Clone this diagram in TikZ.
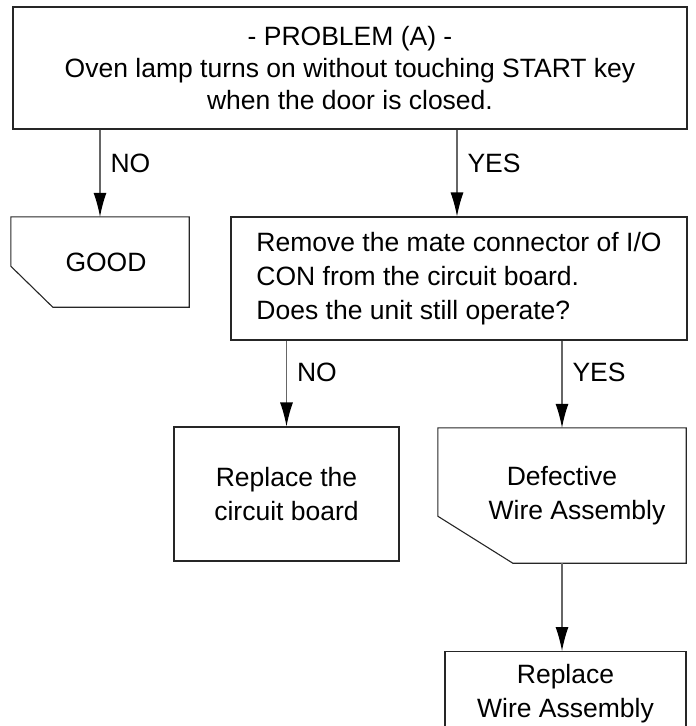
\documentclass[tikz,border=0pt]{standalone}
\usepackage{fontspec}
\setmainfont{Liberation Sans}
\usetikzlibrary{arrows.meta}
\begin{document}
\begin{tikzpicture}[x=1pt,y=-1pt,
  every node/.style={font=\fontsize{26.5}{34}\selectfont},
  boxnode/.style={draw=black!85, line width=1.1pt, align=center, inner sep=0pt},
  plain/.style={draw=none, align=center, inner sep=0pt},
  outline/.style={draw=black!85, line width=1.1pt, line join=miter},
  flow/.style={draw=black!60, line width=1.1pt, -{Latex[length=24pt,width=13pt,color=black]}},
  lab/.style={anchor=west, inner sep=0pt, xshift=10pt}]
\useasboundingbox (0,0) rectangle (696,726);
\clip (0,0) rectangle (696,726);

\node[boxnode, minimum width=674pt, minimum height=122pt, font=\fontsize{26.5}{32}\selectfont] (prob) at (350,68)
  {- PROBLEM (A) -\\Oven lamp turns on without touching START key\\when the door is closed.};

\node[plain, minimum width=178pt, minimum height=90pt] (good) at (100,262) {\hspace*{12pt}GOOD};
\draw[outline] (good.north west) -- (good.north east) -- (good.south east)
  -- ([xshift=42pt]good.south west) -- ([yshift=41pt]good.south west) -- cycle;

\node[boxnode, align=left, minimum width=456pt, minimum height=123pt] (mid) at (459,278.5)
  {Remove the mate connector of I/O\\CON from the circuit board.\\Does the unit still operate?};
\coordinate (midin) at ([xshift=-2pt]mid.north);

\node[boxnode, minimum width=225pt, minimum height=134pt] (board) at (286.5,494) {Replace the\\circuit board};

\node[plain, minimum width=248pt, minimum height=135pt] (defect) at (562,495.5)
  {Defective\\\rule{30pt}{0pt}Wire Assembly};
\draw[outline] (defect.north west) -- (defect.north east) -- (defect.south east)
  -- ([xshift=75pt]defect.south west) -- ([yshift=47pt]defect.south west) -- cycle;

\node[boxnode, anchor=north, minimum width=241pt, inner ysep=13pt, text depth=60pt] (rep) at (565.5,651)
  {Replace\\Wire Assembly};

\draw[flow] (prob.south -| good.north) -- (good.north) node[lab, pos=0.39] {NO};
\draw[flow] (prob.south -| midin) -- (midin) node[lab, pos=0.39] {YES};
\draw[flow] (mid.south -| board.north) -- (board.north) node[lab, pos=0.37] {NO};
\draw[flow] (mid.south -| defect.north) -- (defect.north) node[lab, pos=0.37] {YES};
\draw[flow] (defect.south) -- (defect.south |- rep.north);
\end{tikzpicture}
\end{document}
